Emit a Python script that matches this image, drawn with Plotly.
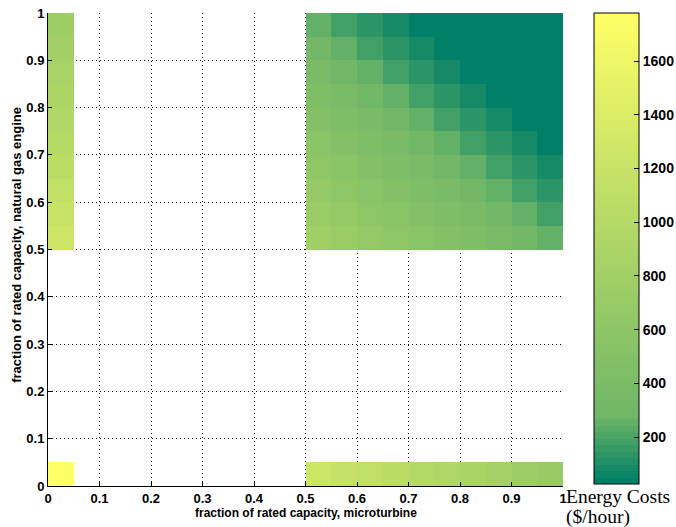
import math
import plotly.graph_objects as go

# ---- data ----
# cell edges along both axes (fraction of rated capacity)
capacity_edges = [0.0, 0.05, 0.1, 0.15, 0.2, 0.25, 0.3, 0.35, 0.4, 0.45, 0.5,
                  0.55, 0.6, 0.65, 0.7, 0.75, 0.8, 0.85, 0.9, 0.95, 1.0]

# both units running: rows = natural gas engine 0.50 .. 0.95, cols = microturbine 0.50 .. 0.95
both_units_cost = [
    [790, 725, 665, 605, 548, 492, 435, 380, 305, 245],
    [725, 665, 605, 548, 492, 435, 380, 305, 245, 184],
    [665, 605, 548, 492, 435, 380, 305, 245, 184, 129],
    [605, 548, 492, 435, 380, 305, 245, 184, 129, 78],
    [548, 492, 435, 380, 305, 245, 184, 129, 78, 30],
    [492, 435, 380, 305, 245, 184, 129, 78, 30, 27],
    [435, 380, 305, 245, 184, 129, 78, 30, 27, 26],
    [380, 305, 245, 184, 129, 78, 30, 27, 26, 25],
    [305, 245, 184, 129, 78, 30, 27, 26, 25, 25],
    [245, 184, 129, 78, 30, 27, 26, 25, 25, 25],
]
# microturbine off, gas engine 0.50 .. 0.95
engine_only_cost = [1250, 1190, 1130, 1075, 1020, 965, 910, 860, 810, 760]
# gas engine off, microturbine 0.50 .. 0.95
microturbine_only_cost = [1240, 1180, 1120, 1060, 1000, 940, 880, 820, 760, 700]
# both off
both_off_cost = 1779

colorbar_ticks = [200, 400, 600, 800, 1000, 1200, 1400, 1600]

# ---- build the grid ----
n = len(capacity_edges) - 1
half = n // 2
Z = [[math.nan] * n for _ in range(n)]
Z[0][0] = both_off_cost
for k in range(half):
    Z[half + k][0] = engine_only_cost[k]
    Z[0][half + k] = microturbine_only_cost[k]
    for i in range(half):
        Z[half + k][half + i] = both_units_cost[k][i]

# ---- colour scale: "summer"-like with stepped dark low end ----
def summer(t):
    return "rgb(%d,%d,%d)" % (round(255 * t), round(255 * (0.5 + 0.5 * t)), 102)

vmin = min(min(r) for r in both_units_cost)
vmax = both_off_cost
knee = (267 - vmin) / (vmax - vmin)
cs = []
nb = 10
for k in range(nb):
    c = summer(0.043 * k)
    cs.append([knee * k / nb, c])
    cs.append([knee * (k + 1) / nb, c])
cs.append([knee, summer(0.43)])
cs.append([1.0, summer(1.0)])

W, H = 676, 527
L, R, T, B = 48, 563, 13, 486

def px_x(p):
    return (p - L) / (R - L)

def px_y(p):
    return (B - p) / (B - T)

fig = go.Figure()
fig.add_trace(go.Heatmap(
    z=Z, x=capacity_edges, y=capacity_edges,
    colorscale=cs, zmin=vmin, zmax=vmax,
    hoverongaps=False,
    colorbar=dict(
        x=px_x(594), xanchor="left", xpad=0,
        y=1, yanchor="top", ypad=0,
        lenmode="pixels", len=471,
        thicknessmode="pixels", thickness=45,
        outlinecolor="black", outlinewidth=1,
        tickvals=colorbar_ticks,
        ticks="inside", ticklen=5, tickcolor="black",
        tickfont=dict(family="Liberation Sans", size=14, color="black", weight="bold"),
    ),
))

axis_common = dict(
    range=[0, 1], dtick=0.1, tick0=0, automargin=False,
    showgrid=True, gridcolor="black", griddash="1px,3px", gridwidth=1,
    zeroline=False, showline=True, linecolor="black", linewidth=1,
    ticks="inside", ticklen=4, tickcolor="black",
    tickfont=dict(family="Liberation Sans", size=13, color="black", weight="bold"),
)
fig.update_xaxes(**axis_common)
fig.update_yaxes(**axis_common)

fig.update_layout(
    width=W, height=H,
    margin=dict(l=L, r=W - R, t=T, b=H - B, autoexpand=False),
    plot_bgcolor="white", paper_bgcolor="white",
    annotations=[
        dict(text="fraction of rated capacity, microturbine",
             xref="paper", yref="paper", x=0.5, y=px_y(513),
             xanchor="center", yanchor="middle", showarrow=False,
             font=dict(family="Liberation Sans", size=12, color="black", weight="bold")),
        dict(text="fraction of rated capacity, natural gas engine",
             xref="paper", yref="paper", x=px_x(17), y=0.51,
             xanchor="center", yanchor="middle", showarrow=False, textangle=-90,
             font=dict(family="Liberation Sans", size=13, color="black", weight="bold")),
        dict(text="Energy Costs",
             xref="paper", yref="paper", x=px_x(564), y=px_y(496),
             xanchor="left", yanchor="middle", showarrow=False,
             font=dict(family="Liberation Serif", size=19.5, color="black")),
        dict(text="($/hour)",
             xref="paper", yref="paper", x=px_x(564), y=px_y(517),
             xanchor="left", yanchor="middle", showarrow=False,
             font=dict(family="Liberation Serif", size=19.5, color="black")),
    ],
)

fig.write_html(
    "out.html",
    config={"displayModeBar": False},
    post_script="document.body.style.margin='0';document.body.style.overflow='hidden';",
)
